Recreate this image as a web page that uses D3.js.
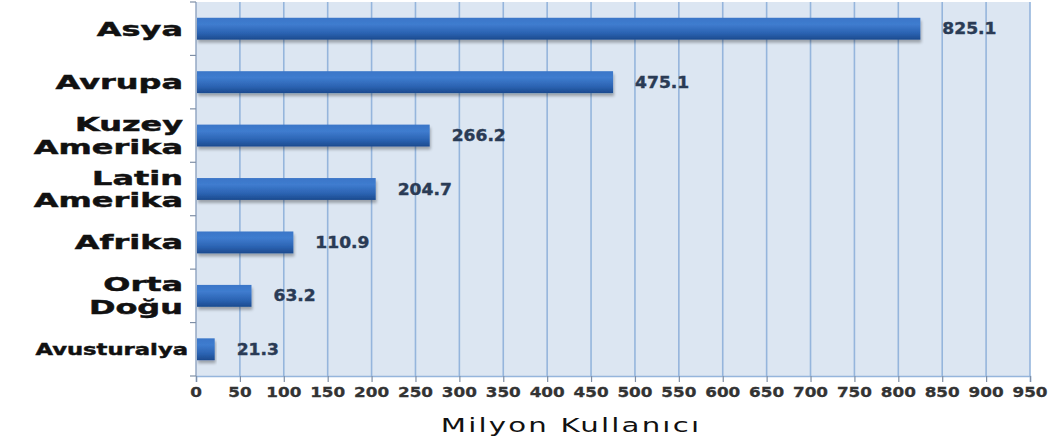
<!DOCTYPE html>
<html>
<head>
<meta charset="utf-8">
<script src="https://cdn.jsdelivr.net/npm/d3@7"></script>
<style>
  html, body { margin: 0; padding: 0; background: #ffffff; }
  svg { display: block; }
</style>
</head>
<body>
<script>
// Internet users by region (millions)
const regions = ["Asya", "Avrupa", "Kuzey Amerika", "Latin Amerika", "Afrika", "Orta Doğu", "Avusturalya"];
const regionLines = [["Asya"], ["Avrupa"], ["Kuzey", "Amerika"], ["Latin", "Amerika"], ["Afrika"], ["Orta", "Doğu"], ["Avusturalya"]];
const users = [825.1, 475.1, 266.2, 204.7, 110.9, 63.2, 21.3];
const xTicks = [0, 50, 100, 150, 200, 250, 300, 350, 400, 450, 500, 550, 600, 650, 700, 750, 800, 850, 900, 950];
const axisTitle = "Milyon Kullanıcı";

const W = 1058, H = 441;
const plotLeft = 196, plotRight = 1030, plotTop = 2, plotBottom = 376;

const svg = d3.select("body").append("svg").attr("width", W).attr("height", H);

const x = d3.scaleLinear().domain([0, 950]).range([plotLeft, plotRight]);
const y = d3.scaleBand().domain(regions).range([plotTop, plotBottom]).paddingInner(0.59).paddingOuter(0.295);

const defs = svg.append("defs");
const grad = defs.append("linearGradient").attr("id", "barGrad").attr("x1", 0).attr("y1", 0).attr("x2", 0).attr("y2", 1);
grad.append("stop").attr("offset", "0%").attr("stop-color", "#3a76c8");
grad.append("stop").attr("offset", "30%").attr("stop-color", "#3f7ccf");
grad.append("stop").attr("offset", "70%").attr("stop-color", "#2b63b2");
grad.append("stop").attr("offset", "100%").attr("stop-color", "#1c4a8e");
const shadow = defs.append("filter").attr("id", "barShadow").attr("x", "-5%").attr("y", "-30%").attr("width", "115%").attr("height", "180%");
shadow.append("feGaussianBlur").attr("in", "SourceAlpha").attr("stdDeviation", 1.6).attr("result", "b");
shadow.append("feOffset").attr("in", "b").attr("dx", 1).attr("dy", 3).attr("result", "o");
shadow.append("feComponentTransfer").attr("in", "o").attr("result", "s")
  .append("feFuncA").attr("type", "linear").attr("slope", 0.3);
const merge = shadow.append("feMerge");
merge.append("feMergeNode").attr("in", "s");
merge.append("feMergeNode").attr("in", "SourceGraphic");

// plot background
svg.append("rect").attr("x", plotLeft).attr("y", plotTop).attr("width", plotRight - plotLeft).attr("height", plotBottom - plotTop)
  .attr("fill", "#dce6f2");

// vertical grid lines
svg.append("g").selectAll("line").data(xTicks.slice(1)).join("line")
  .attr("x1", d => x(d)).attr("x2", d => x(d)).attr("y1", plotTop).attr("y2", plotBottom)
  .attr("stroke", "#95b5dc").attr("stroke-width", 1.6);

// x axis (line + ticks)
const xAxis = d3.axisBottom(x).tickValues(xTicks).tickSize(6).tickFormat("");
const gx = svg.append("g").attr("transform", `translate(0,${plotBottom})`).call(xAxis);
gx.select(".domain").attr("stroke", "#95b5dc").attr("stroke-width", 1.6);
gx.selectAll(".tick line").attr("stroke", "#7f8fa6").attr("stroke-width", 1.2);

// y axis line with ticks at band boundaries
const step = y.step();
const bounds = d3.range(regions.length + 1).map(i => plotTop + i * step);
svg.append("line").attr("x1", plotLeft).attr("x2", plotLeft).attr("y1", plotTop).attr("y2", plotBottom)
  .attr("stroke", "#8ea3c0").attr("stroke-width", 1.4);
svg.append("g").selectAll("line").data(bounds).join("line")
  .attr("x1", plotLeft - 6).attr("x2", plotLeft).attr("y1", d => d).attr("y2", d => d)
  .attr("stroke", "#7f8fa6").attr("stroke-width", 1.2);

// bars
svg.append("g").selectAll("rect").data(regions).join("rect")
  .attr("x", x(0) + 1)
  .attr("y", d => y(d))
  .attr("width", (d, i) => x(users[i]) - x(0) - 1)
  .attr("height", y.bandwidth())
  .attr("fill", "url(#barGrad)")
  .attr("filter", "url(#barShadow)");

// stretched text helper
function wideText(parent, tx, ty, sx, str, anchor) {
  return parent.append("g").attr("transform", `translate(${tx},${ty}) scale(${sx},1)`)
    .append("text").attr("x", 0).attr("y", 0).attr("text-anchor", anchor).text(str);
}

// value labels
const vals = svg.append("g").attr("font-family", "DejaVu Sans").attr("font-weight", "bold")
  .attr("font-size", 15).attr("fill", "#2a3b55").attr("stroke", "#2a3b55").attr("stroke-width", 0.4);
regions.forEach((r, i) => {
  wideText(vals, x(users[i]) + 22, y(r) + y.bandwidth() / 2 + 5.5, 1.14, users[i].toFixed(1), "start");
});

// category labels
const cats = svg.append("g").attr("font-family", "DejaVu Sans").attr("font-weight", "bold")
  .attr("fill", "#111111").attr("stroke", "#111111").attr("stroke-width", 0.45);
regionLines.forEach((lines, i) => {
  const cy = y(regions[i]) + y.bandwidth() / 2;
  const small = lines[0] === "Avusturalya";
  const fs = small ? 16 : 19.5;
  const sx = small ? 1.42 : 1.64;
  const lh = 22.8;
  lines.forEach((ln, j) => {
    const by = cy + fs * 0.36 + (j - (lines.length - 1) / 2) * lh;
    wideText(cats, small ? 188 : 183, by, sx, ln, "end").attr("font-size", fs);
  });
});

// x tick labels
const tl = svg.append("g").attr("font-family", "DejaVu Sans").attr("font-weight", "bold")
  .attr("font-size", 14).attr("fill", "#333333").attr("stroke", "#333333").attr("stroke-width", 0.3);
xTicks.forEach(t => {
  wideText(tl, x(t), 397, 1.2, String(t), "middle");
});

// axis title
const tt = svg.append("g").attr("font-family", "DejaVu Sans").attr("font-size", 20).attr("fill", "#111111");
wideText(tt, 571, 432, 1.46, axisTitle, "middle").attr("letter-spacing", 1.5);
</script>
</body>
</html>
